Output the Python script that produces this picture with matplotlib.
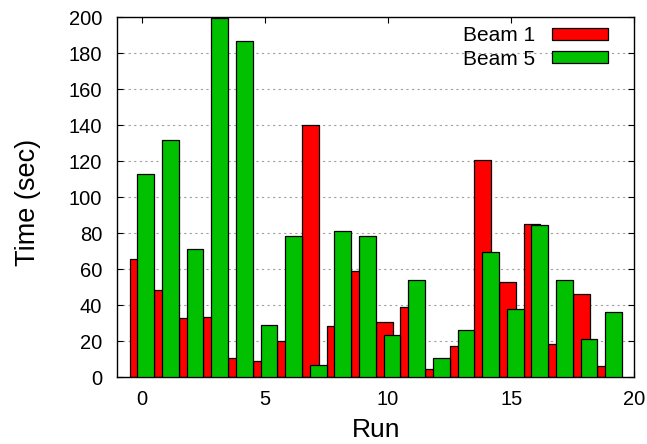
import matplotlib
matplotlib.use("Agg")
import matplotlib.pyplot as plt
import numpy as np

plt.rcParams['font.family'] = ['Liberation Sans', 'DejaVu Sans']

runs = list(range(20))
beam1 = [66, 48.5, 33, 33.7, 11, 9.3, 20, 140, 28.3, 59,
         30.5, 39, 4.6, 17.2, 121, 53, 85.2, 18.3, 46.4, 6.5]
beam5 = [113, 131.8, 71.5, 199.4, 186.8, 28.9, 78.5, 7, 81.5, 78.5,
         23.5, 53.9, 10.5, 26.5, 69.6, 37.8, 84.6, 54.2, 21.1, 36.4]
xticks = [0, 5, 10, 15, 20]
yticks = list(range(0, 201, 20))

fig = plt.figure(figsize=(6.47, 4.44), dpi=100)
ax = fig.add_axes([0.1813, 0.1502, 0.7991, 0.8108])

x = np.array(runs)
w = 0.68
off = 0.16
ax.bar(x - off, beam1, width=w, color='#ff0000', edgecolor='black', linewidth=0.9,
       label='Beam 1', zorder=2)
ax.bar(x + off, beam5, width=w, color='#00c000', edgecolor='black', linewidth=0.9,
       label='Beam 5', zorder=3)

ax.set_xlim(-1, 20)
ax.set_ylim(0, 200)
ax.set_xticks(xticks)
ax.set_yticks(yticks)
ax.tick_params(direction='in', length=4, width=0.8, labelsize=14.5,
               top=True, right=True, pad=9, colors='black')
ax.tick_params(axis='y', pad=11)
for s in ax.spines.values():
    s.set_linewidth(1.0)

for yv in yticks[1:-1]:
    ax.axhline(yv, color='#a0a0a0', linestyle=(0, (2, 3)), linewidth=0.8, zorder=1)

ax.set_xlabel('Run', fontsize=19, labelpad=6.5)
ax.set_ylabel('Time (sec)', fontsize=19.5, labelpad=20, y=0.487)

ax.legend(loc='upper right', bbox_to_anchor=(0.966, 0.998), frameon=False,
          markerfirst=False, fontsize=15,
          handlelength=2.7, handleheight=0.55, labelspacing=0.2,
          borderaxespad=0, borderpad=0.4, handletextpad=0.8)

fig.savefig('out.png', dpi=100)
